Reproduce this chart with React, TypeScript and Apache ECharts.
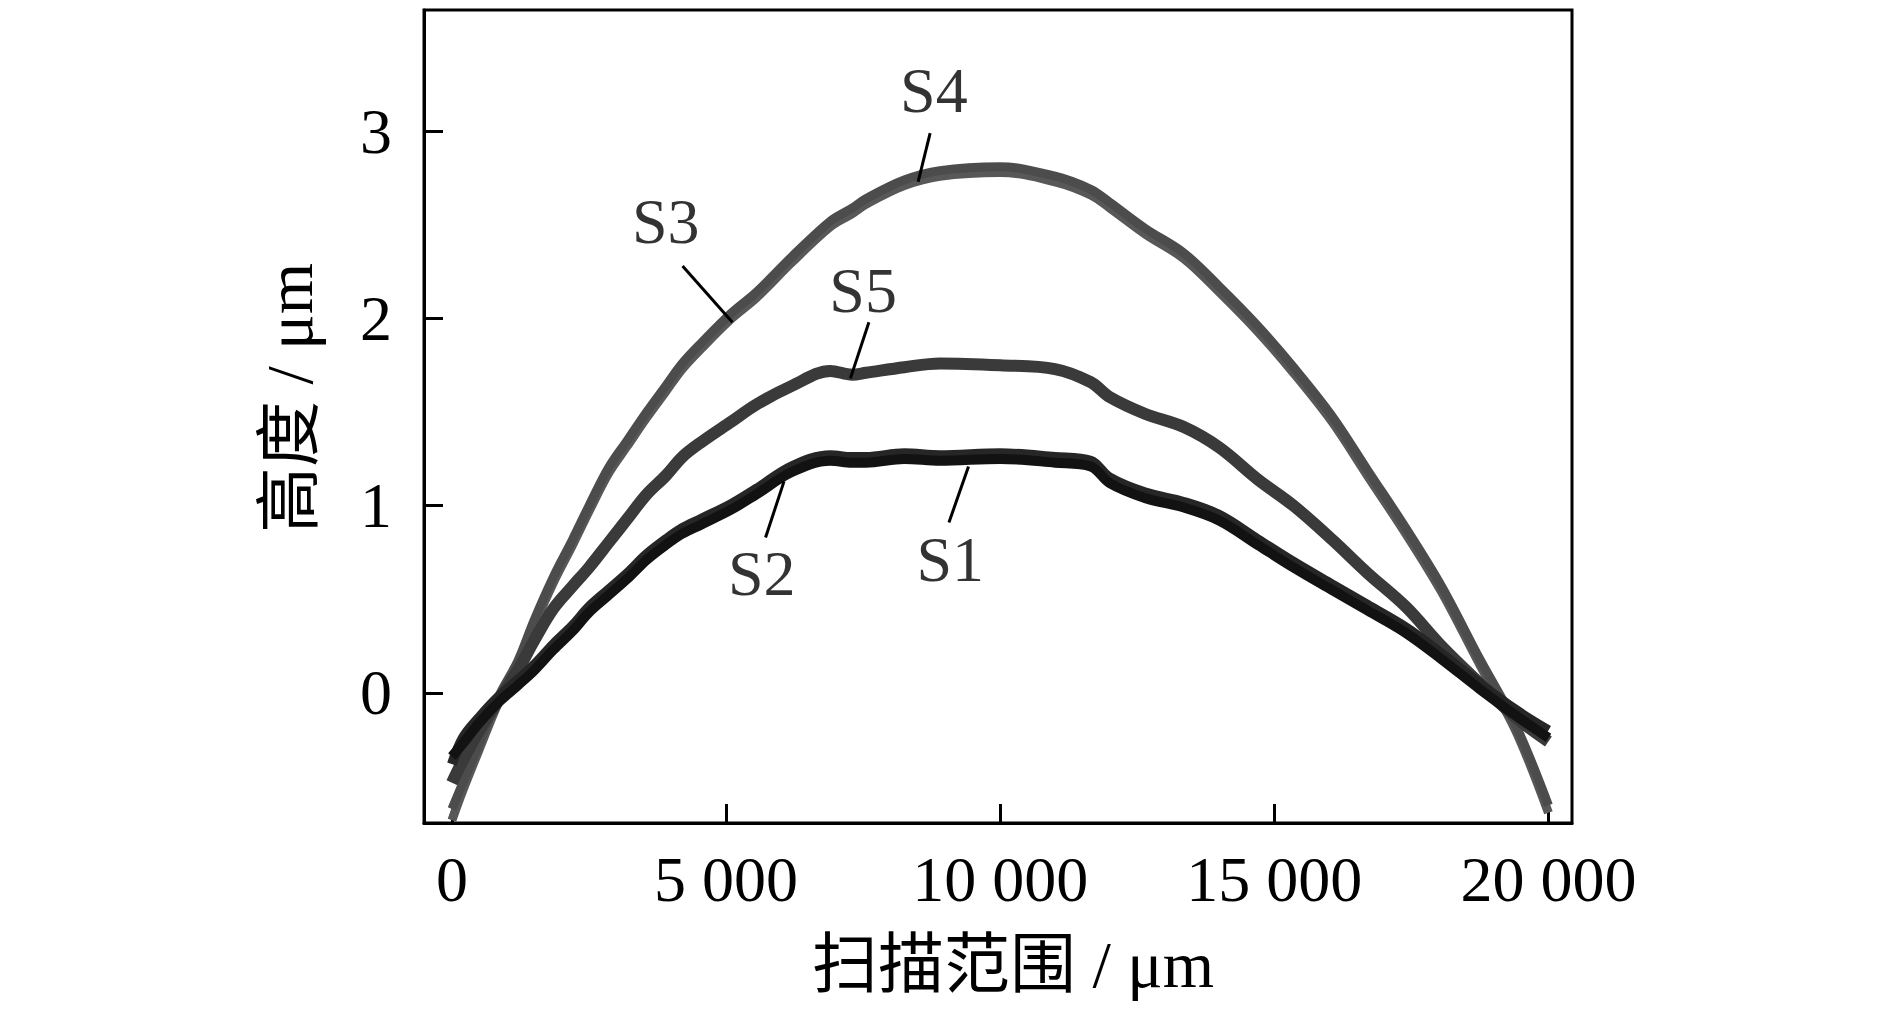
import React, { useEffect, useRef } from "react";
import * as echarts from "echarts";

// scan positions (μm)
const xs = [0, 200, 500, 850, 1200, 1500, 1850, 2200, 2500, 2850, 3200, 3550, 3900, 4200, 4550, 5100, 5550, 6200, 6900, 7300, 7550, 8250, 8900, 10000, 11000, 11650, 12000, 12650, 13350, 14000, 14700, 15350, 16050, 16700, 17400, 18050, 18750, 19400, 20000];

// heights (μm)
const s1 = [-0.34, -0.27, -0.16, -0.05, 0.04, 0.12, 0.23, 0.33, 0.43, 0.52, 0.61, 0.71, 0.79, 0.85, 0.90, 0.98, 1.06, 1.18, 1.24, 1.23, 1.23, 1.25, 1.24, 1.25, 1.23, 1.21, 1.12, 1.04, 0.99, 0.92, 0.79, 0.67, 0.55, 0.44, 0.32, 0.18, 0.02, -0.12, -0.24];
const s2 = [-0.38, -0.24, -0.13, -0.02, 0.07, 0.15, 0.26, 0.36, 0.46, 0.55, 0.64, 0.74, 0.82, 0.88, 0.93, 1.01, 1.09, 1.21, 1.27, 1.26, 1.26, 1.28, 1.27, 1.28, 1.26, 1.24, 1.15, 1.07, 1.02, 0.95, 0.82, 0.70, 0.58, 0.47, 0.35, 0.21, 0.05, -0.09, -0.20];
const s3 = [-0.68, -0.52, -0.30, -0.05, 0.14, 0.36, 0.59, 0.79, 0.97, 1.17, 1.32, 1.47, 1.61, 1.73, 1.84, 2.00, 2.11, 2.30, 2.49, 2.56, 2.61, 2.71, 2.76, 2.78, 2.73, 2.66, 2.59, 2.45, 2.32, 2.14, 1.93, 1.71, 1.45, 1.16, 0.85, 0.54, 0.15, -0.20, -0.64];
const s4 = [-0.62, -0.48, -0.27, -0.02, 0.17, 0.39, 0.62, 0.82, 1.00, 1.20, 1.35, 1.50, 1.64, 1.76, 1.87, 2.03, 2.14, 2.33, 2.52, 2.59, 2.64, 2.74, 2.79, 2.81, 2.76, 2.69, 2.62, 2.48, 2.35, 2.17, 1.96, 1.74, 1.48, 1.19, 0.88, 0.57, 0.18, -0.17, -0.60];
const s5 = [-0.48, -0.36, -0.20, -0.04, 0.12, 0.28, 0.45, 0.57, 0.67, 0.80, 0.93, 1.06, 1.16, 1.26, 1.34, 1.45, 1.54, 1.64, 1.72, 1.70, 1.71, 1.74, 1.76, 1.75, 1.73, 1.66, 1.58, 1.49, 1.42, 1.31, 1.14, 1.00, 0.82, 0.64, 0.46, 0.25, 0.05, -0.13, -0.26];

// tick values
const xTicks = [0, 5000, 10000, 15000, 20000];
const yTicks = [0, 1, 2, 3];

// annotation labels (data coordinates)
const labelNames = ["S1", "S2", "S3", "S4", "S5"];
const labelX = [9090, 5650, 3900, 8790, 7500];
const labelY = [0.71, 0.64, 2.52, 3.22, 2.15];
const leaderX1 = [9065, 5720, 4206, 8503, 7605];
const leaderY1 = [0.91, 0.83, 2.28, 2.73, 1.98];
const leaderX2 = [9422, 6057, 5115, 8722, 7268];
const leaderY2 = [1.21, 1.13, 1.98, 2.99, 1.68];

const FONT = '"Liberation Serif", "Times New Roman", serif';
const CJK_FONT = '"Liberation Serif", "Noto Sans CJK SC", serif';

const fmt = (v: number) => String(v).replace(/\B(?=(\d{3})+(?!\d))/g, " ");

export default function App() {
  const ref = useRef<HTMLDivElement>(null);
  useEffect(() => {
    if (!ref.current) return;
    const chart = echarts.init(ref.current, undefined, { renderer: "svg" });
    const mk = (ys: number[]) => xs.map((x, i) => [x, ys[i]]);
    const lineSeries = (name: string, ys: number[], color: string, width: number) => ({
      type: "line",
      name,
      data: mk(ys),
      showSymbol: false,
      smooth: 0.35,
      lineStyle: { color, width },
      itemStyle: { color },
      z: 2,
    });
    chart.setOption({
      animation: false,
      grid: { left: 424, right: 318, top: 10, bottom: 193, show: true, borderColor: "#000", borderWidth: 3, backgroundColor: "transparent" },
      xAxis: {
        type: "value",
        min: -510,
        max: 20430,
        axisLine: { show: true, onZero: false, lineStyle: { color: "#000", width: 3 } },
        axisTick: { show: true, inside: true, length: 19, lineStyle: { color: "#000", width: 3 }, customValues: xTicks },
        axisLabel: { customValues: xTicks, formatter: (v: number) => fmt(v), fontSize: 64, fontFamily: FONT, color: "#000", margin: 24 },
        splitLine: { show: false },
      },
      yAxis: {
        type: "value",
        min: -0.695,
        max: 3.648,
        axisLine: { show: true, onZero: false, lineStyle: { color: "#000", width: 3 } },
        axisTick: { show: true, inside: true, length: 19, lineStyle: { color: "#000", width: 3 }, customValues: yTicks },
        axisLabel: { customValues: yTicks, fontSize: 64, fontFamily: FONT, color: "#000", margin: 32 },
        splitLine: { show: false },
      },
      series: [
        lineSeries("S3", s3, "#585858", 9),
        lineSeries("S4", s4, "#4c4c4c", 9),
        lineSeries("S5", s5, "#3a3a3a", 12),
        lineSeries("S2", s2, "#262626", 10),
        lineSeries("S1", s1, "#121212", 10),
        {
          type: "lines",
          coordinateSystem: "cartesian2d",
          data: leaderX1.map((x, i) => ({ coords: [[x, leaderY1[i]], [leaderX2[i], leaderY2[i]]] })),
          lineStyle: { color: "#000", width: 3, opacity: 1 },
          symbol: ["none", "none"],
          z: 5,
        },
        {
          type: "scatter",
          data: labelNames.map((n, i) => ({ value: [labelX[i], labelY[i]], name: n })),
          symbol: "circle",
          symbolSize: 1,
          itemStyle: { color: "rgba(0,0,0,0)" },
          label: { show: true, position: "inside", formatter: (p: any) => p.name, fontSize: 64, fontFamily: FONT, color: "#000" },
          z: 6,
        },
      ],
      graphic: [
        {
          type: "text",
          x: 289,
          y: 398,
          rotation: Math.PI / 2,
          style: { text: "高度 / μm", font: `66px ${CJK_FONT}`, textAlign: "center", textVerticalAlign: "middle", fill: "#000" },
        },
        {
          type: "text",
          x: 1013,
          y: 964,
          style: { text: "扫描范围 / μm", font: `66px ${CJK_FONT}`, textAlign: "center", textVerticalAlign: "middle", fill: "#000" },
        },
      ],
    });
    return () => chart.dispose();
  }, []);
  return <div ref={ref} style={{ position: "fixed", left: 0, top: 0, width: 1890, height: 1016, background: "#fff" }} />;
}
